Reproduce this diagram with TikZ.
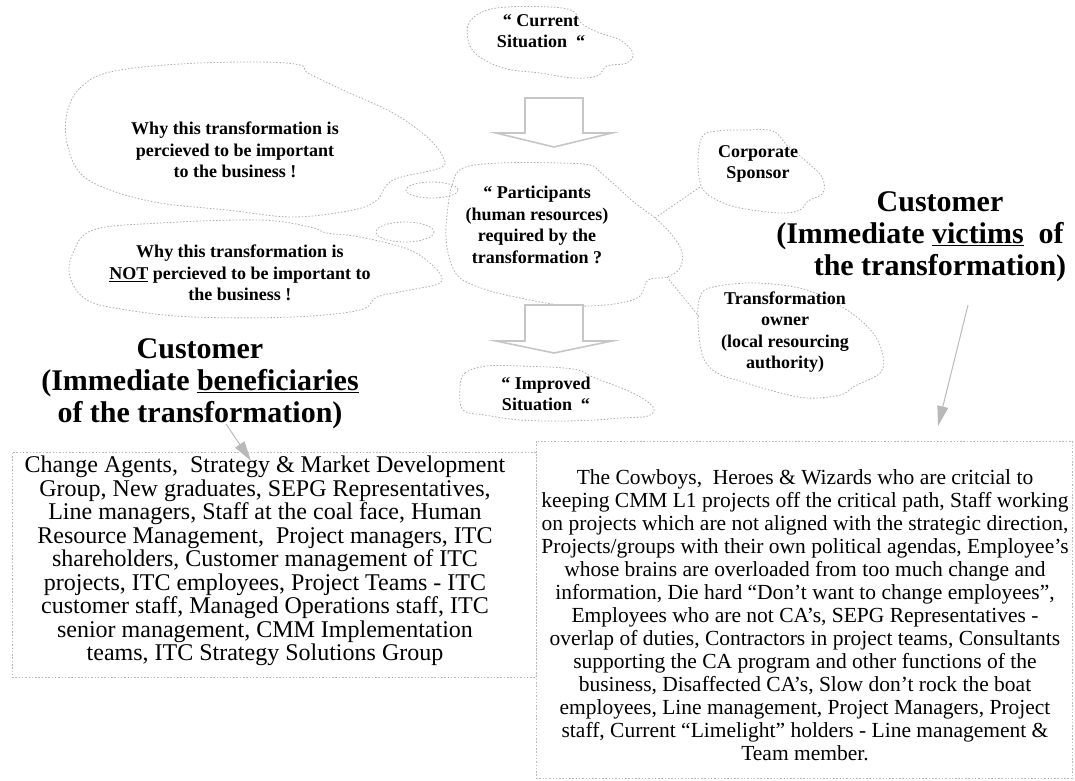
\documentclass[tikz,border=0pt]{standalone}
\usepackage{fontspec}
\setmainfont{Liberation Serif}
\usetikzlibrary{arrows.meta}
\begin{document}
\begin{tikzpicture}[x=1pt,y=-1pt,
  cloudline/.style={draw=gray!65, line width=0.8pt, dash pattern=on 1.5pt off 1.8pt},
  ctext/.style={font=\bfseries\fontsize{18}{21.5}\selectfont, align=center, inner sep=0pt},
  ttext/.style={font=\bfseries\fontsize{30}{32}\selectfont, align=center, inner sep=0pt},
  boxline/.style={draw=gray!55, line width=0.8pt, dash pattern=on 1.5pt off 1.8pt},
  blockarrow/.style={draw=gray!45, line width=1.6pt, fill=white, line join=miter},
  conn/.style={draw=gray!60, line width=1pt, -{Triangle[length=20pt,width=11pt]}, color=gray!55}
]
\useasboundingbox (0,0) rectangle (1075,780);

% clouds
\path[cloudline] plot[smooth cycle, tension=0.6] coordinates {(468,25) (482,12) (507,7) (550,7) (573,11) (582,24) (600,33) (620,40) (633,53) (627,63) (607,66) (597,76) (573,78) (540,73) (507,69) (483,59) (470,46)};
\path[cloudline] plot[smooth cycle, tension=0.6] coordinates {(67,113) (80,88) (110,72) (180,64) (260,62) (300,65) (308,73) (343,90) (393,113) (427,137) (443,157) (440,168) (393,180) (377,200) (353,210) (293,217) (227,210) (160,203) (110,190) (80,173) (67,143)};
\path[cloudline] plot[smooth cycle, tension=0.6] coordinates {(93,230) (160,223) (260,220) (310,227) (327,233) (360,237) (410,250) (437,270) (440,283) (410,290) (377,297) (360,310) (293,317) (193,317) (127,310) (87,300) (70,277) (73,253)};
\path[cloudline] plot[smooth cycle, tension=0.6] coordinates {(447,215) (452,185) (463,168) (500,163) (560,163) (590,165) (600,172) (615,185) (635,203) (655,218) (672,235) (682,252) (680,268) (667,277) (648,280) (640,296) (620,303) (590,306) (560,305) (520,298) (487,290) (460,278) (450,260) (446,238)};
\path[cloudline] plot[smooth cycle, tension=0.6] coordinates {(698,163) (702,137) (717,131) (745,130) (773,131) (787,145) (807,162) (822,177) (823,193) (808,201) (800,210) (780,213) (740,208) (717,200) (702,188)};
\path[cloudline] plot[smooth cycle, tension=0.6] coordinates {(698,323) (700,297) (713,287) (757,283) (807,290) (847,310) (873,333) (883,356) (880,373) (855,386) (840,395) (807,398) (773,391) (740,381) (717,373) (703,357)};
\path[cloudline] plot[smooth cycle, tension=0.6] coordinates {(460,388) (465,373) (487,366) (520,366) (573,369) (595,378) (633,393) (653,407) (648,416) (620,418) (595,420) (560,421) (520,420) (485,415) (463,410)};

% thought bubbles and tails
\path[cloudline] (432,190) ellipse [x radius=26, y radius=8];
\path[cloudline] (405,232) ellipse [x radius=29, y radius=10];
\coordinate (t1a) at (655,218); \coordinate (t1b) at (700,187);
\coordinate (t2a) at (667,277); \coordinate (t2b) at (700,318);
\path[cloudline] (t1a) -- (t1b);
\path[cloudline] (t2a) -- (t2b);

% block arrows
\path[blockarrow] (525,98) -- (583,98) -- (583,133) -- (612,133) -- (554,147) -- (496,133) -- (525,133) -- cycle;
\path[blockarrow] (525,305) -- (583,305) -- (583,341) -- (612,341) -- (554,353) -- (496,341) -- (525,341) -- cycle;

% cloud texts
\node[ctext] (cur) at (541,31) {“ Current\\Situation\ \ “};
\node[ctext] (why) at (235,150) {Why this transformation is\\percieved to be important\\to the business !};
\node[ctext] (whynot) at (240,273) {Why this transformation is\\\underline{NOT} percieved to be important to\\the business !};
\node[ctext] (part) at (537,225) {“ Participants\\(human resources)\\required by the\\transformation ?};
\node[ctext] (spon) at (758,164) {Corporate\\Sponsor};
\node[ctext] (own) at (785,332) {Transformation\\owner\\(local resourcing\\authority)};
\node[ctext] (imp) at (546,394) {“ Improved\\Situation\ \ “};

% titles
\node[ttext] (ltitle) at (200,384) {Customer\\(Immediate \underline{beneficiaries}\\of the transformation)};
\node[ttext] (rtitle) at (940,237) {Customer\\(Immediate \underline{victims}\ \ of\rule{40pt}{0pt}\\the transformation)};

% boxes
\node[boxline, minimum width=524pt, minimum height=225pt, inner sep=0pt] (lbox) at (274,564.5) {};
\node[font=\fontsize{24}{23.5}\selectfont, align=center, inner sep=0pt] (ltext) at (265,561)
{Change Agents,\ \ Strategy \& Market Development\\Group, New graduates, SEPG Representatives,\\Line managers, Staff at the coal face, Human\\Resource Management,\ \ Project managers, ITC\\shareholders, Customer management of ITC\\projects, ITC employees, Project Teams - ITC\\customer staff, Managed Operations staff, ITC\\senior management, CMM Implementation\\teams, ITC Strategy Solutions Group};
\node[boxline, minimum width=536pt, minimum height=337pt, inner sep=0pt] (rbox) at (804,609.5) {};
\node[font=\fontsize{21.5}{23}\selectfont, align=center, inner sep=0pt] (rtext) at (805,615)
{The Cowboys,\ \ Heroes \& Wizards who are critcial to\\keeping CMM L1 projects off the critical path, Staff working\\on projects which are not aligned with the strategic direction,\\Projects/groups with their own political agendas, Employee’s\\whose brains are overloaded from too much change and\\information, Die hard “Don’t want to change employees”,\\Employees who are not CA’s, SEPG Representatives -\\overlap of duties, Contractors in project teams, Consultants\\supporting the CA program and other functions of the\\business, Disaffected CA’s, Slow don’t rock the boat\\employees, Line management, Project Managers, Project\\staff, Current “Limelight” holders - Line management \&\\Team member.};

% connectors
\coordinate (la) at (226,424); \coordinate (lb) at (251,461);
\coordinate (ra) at (968,305); \coordinate (rb) at (938,426);
\draw[conn] (la) -- (lb);
\draw[conn] (ra) -- (rb);
\end{tikzpicture}
\end{document}
